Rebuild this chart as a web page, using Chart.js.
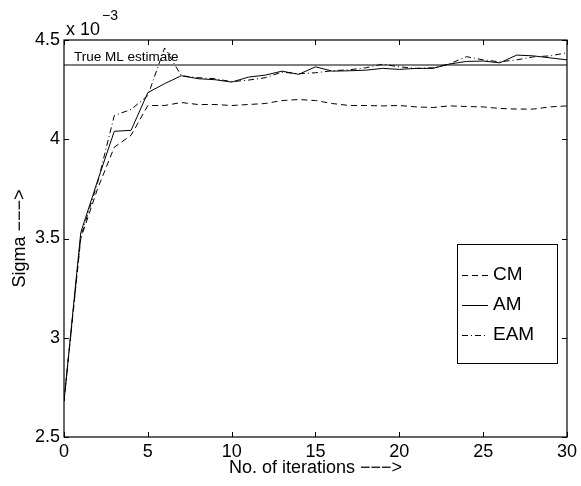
<!DOCTYPE html>
<html>
<head>
<meta charset="utf-8">
<script src="https://cdn.jsdelivr.net/npm/chart.js@4"></script>
<style>
  html, body { margin: 0; padding: 0; background: #fff; }
  #wrap { width: 581px; height: 486px; }
</style>
</head>
<body>
<div id="wrap"><canvas id="sigmaChart" width="581" height="486"></canvas></div>
<script>
// iterations (x) and sigma estimates (in units of 1e-3)
const iterations = [0, 1, 2, 3, 4, 5, 6, 7, 8, 9, 10, 11, 12, 13, 14, 15, 16, 17, 18, 19, 20, 21, 22, 23, 24, 25, 26, 27, 28, 29, 30];
const cmSigma = [2.68, 3.50, 3.75, 3.96, 4.02, 4.17, 4.17, 4.185, 4.175, 4.175, 4.17, 4.175, 4.18, 4.195, 4.20, 4.195, 4.18, 4.17, 4.17, 4.168, 4.17, 4.163, 4.16, 4.168, 4.165, 4.163, 4.155, 4.152, 4.152, 4.163, 4.168];
const amSigma = [2.68, 3.53, 3.79, 4.04, 4.045, 4.235, 4.28, 4.32, 4.305, 4.30, 4.288, 4.313, 4.323, 4.343, 4.327, 4.365, 4.343, 4.345, 4.348, 4.357, 4.352, 4.357, 4.357, 4.379, 4.392, 4.394, 4.385, 4.424, 4.42, 4.41, 4.40];
const eamSigma = [2.68, 3.51, 3.78, 4.12, 4.15, 4.22, 4.46, 4.32, 4.31, 4.305, 4.29, 4.298, 4.31, 4.338, 4.33, 4.335, 4.345, 4.35, 4.36, 4.378, 4.365, 4.357, 4.36, 4.38, 4.416, 4.40, 4.39, 4.40, 4.415, 4.42, 4.436];
const trueML = 4.374;
const xTicks = [0, 5, 10, 15, 20, 25, 30];
const yTicks = [2.5, 3, 3.5, 4, 4.5];

const font = "'Liberation Sans', Arial, Helvetica, sans-serif";
const pts = arr => arr.map((v, i) => ({ x: iterations[i], y: v }));

// MATLAB style box, inward ticks, exponent, legend
const boxPlugin = {
  id: 'box',
  afterDraw(chart) {
    const { ctx, chartArea: a, scales: { x, y } } = chart;
    ctx.save();
    ctx.strokeStyle = '#000';
    ctx.lineWidth = 1.2;
    ctx.strokeRect(a.left, a.top, a.right - a.left, a.bottom - a.top);
    ctx.lineWidth = 1;
    ctx.beginPath();
    xTicks.forEach(v => {
      const px = Math.round(x.getPixelForValue(v)) + 0.5;
      ctx.moveTo(px, a.bottom); ctx.lineTo(px, a.bottom - 5);
      ctx.moveTo(px, a.top); ctx.lineTo(px, a.top + 5);
    });
    yTicks.forEach(v => {
      const py = Math.round(y.getPixelForValue(v)) + 0.5;
      ctx.moveTo(a.left, py); ctx.lineTo(a.left + 5, py);
      ctx.moveTo(a.right, py); ctx.lineTo(a.right - 5, py);
    });
    ctx.stroke();

    // exponent label
    ctx.fillStyle = '#000';
    ctx.textBaseline = 'alphabetic';
    ctx.font = '18px ' + font;
    ctx.fillText('x 10', a.left + 2, a.top - 5);
    ctx.font = '14px ' + font;
    ctx.fillText('\u22123', a.left + 38, a.top - 20);

    // true ML label
    ctx.font = '13.5px ' + font;
    ctx.fillText('True ML estimate', a.left + 10, y.getPixelForValue(trueML) - 4);

    // legend
    const lx = a.right - 110, ly = a.top + 204, lw = 100, lh = 119;
    ctx.fillStyle = '#fff';
    ctx.fillRect(lx, ly, lw, lh);
    ctx.strokeRect(lx + 0.5, ly + 0.5, lw, lh);
    ctx.font = '19px ' + font;
    ctx.textBaseline = 'middle';
    const items = chart.data.datasets.filter(d => d.inLegend);
    items.forEach((d, i) => {
      const yy = ly + 31 + i * 30;
      ctx.setLineDash(d.borderDash || []);
      ctx.beginPath();
      ctx.moveTo(lx + 5, yy + 0.5);
      ctx.lineTo(lx + 31, yy + 0.5);
      ctx.stroke();
      ctx.setLineDash([]);
      ctx.fillStyle = '#000';
      ctx.fillText(d.label, lx + 36, yy);
    });
    ctx.restore();
  }
};

const ctx = document.getElementById('sigmaChart');
new Chart(ctx, {
  type: 'line',
  data: {
    datasets: [
      { label: 'CM', data: pts(cmSigma), borderColor: '#000', borderWidth: 1, borderDash: [6, 4], pointRadius: 0, tension: 0, inLegend: true },
      { label: 'AM', data: pts(amSigma), borderColor: '#000', borderWidth: 1, pointRadius: 0, tension: 0, inLegend: true },
      { label: 'EAM', data: pts(eamSigma), borderColor: '#000', borderWidth: 1, borderDash: [6, 3, 1, 3], pointRadius: 0, tension: 0, inLegend: true },
      { label: 'True ML estimate', data: [{ x: 0, y: trueML }, { x: 30, y: trueML }], borderColor: '#000', borderWidth: 1, pointRadius: 0, inLegend: false }
    ]
  },
  options: {
    responsive: false,
    animation: false,
    layout: { padding: { top: 40, right: 12, left: 0, bottom: 0 } },
    plugins: { legend: { display: false }, tooltip: { enabled: false } },
    scales: {
      x: {
        type: 'linear', min: 0, max: 30,
        afterBuildTicks: s => { s.ticks = xTicks.map(v => ({ value: v })); },
        afterFit: s => { s.height = 49; },
        grid: { display: false, drawTicks: false },
        border: { display: false },
        ticks: { color: '#000', font: { size: 18, family: font }, padding: 4, maxRotation: 0 },
        title: { display: true, text: 'No. of iterations \u2212\u2212\u2212>', color: '#000', font: { size: 18, family: font }, padding: { top: 0, bottom: 7 } }
      },
      y: {
        min: 2.5, max: 4.5,
        afterBuildTicks: s => { s.ticks = yTicks.map(v => ({ value: v })); },
        afterFit: s => { s.width = 64; },
        grid: { display: false, drawTicks: false },
        border: { display: false },
        ticks: { color: '#000', font: { size: 18, family: font }, padding: 4, callback: v => String(v) },
        title: { display: true, text: 'Sigma \u2212\u2212\u2212>', color: '#000', font: { size: 18, family: font }, padding: { top: 9, bottom: 0 } }
      }
    }
  },
  plugins: [boxPlugin]
});
</script>
</body>
</html>
